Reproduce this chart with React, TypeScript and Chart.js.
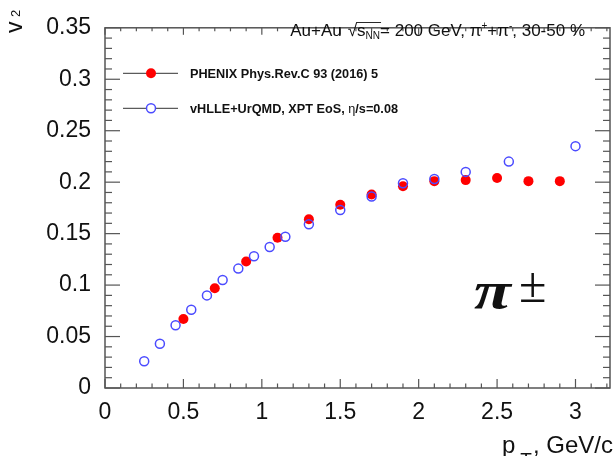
import React, { useEffect, useRef } from "react";
import { Chart, registerables } from "chart.js";

Chart.register(...registerables);

// ---- data ----
const phenixPt = [0.5, 0.7, 0.9, 1.1, 1.3, 1.5, 1.7, 1.9, 2.1, 2.3, 2.5, 2.7, 2.9];
const phenixV2 = [0.067, 0.097, 0.123, 0.146, 0.164, 0.178, 0.188, 0.196, 0.201, 0.202, 0.204, 0.201, 0.201];

const hydroPt = [0.25, 0.35, 0.45, 0.55, 0.65, 0.75, 0.85, 0.95, 1.05, 1.15, 1.3, 1.5, 1.7, 1.9, 2.1, 2.3, 2.575, 3.0];
const hydroV2 = [0.026, 0.043, 0.061, 0.076, 0.09, 0.105, 0.116, 0.128, 0.137, 0.147, 0.159, 0.173, 0.186, 0.199, 0.203, 0.21, 0.22, 0.235];

const legendLabels = ["PHENIX Phys.Rev.C 93 (2016) 5", "vHLLE+UrQMD, XPT EoS, "];
const xRange = [0, 3.22];
const yRange = [0, 0.35];
const xMajorStep = 0.5;
const yMajorStep = 0.05;
const xMinorStep = 0.1;
const yMinorStep = 0.01;

const SANS = "'Liberation Sans', Arial, Helvetica, sans-serif";
const SERIF = "'Liberation Serif', 'Times New Roman', serif";
const RED = "#ff0000";
const BLUE = "#4b4bff";
const FRAME = "#555555";
const TEXT = "#111111";

type Seg = { text: string; font: string; dy?: number; gap?: number };

function drawSegs(ctx: CanvasRenderingContext2D, segs: Seg[], xStart: number, baseline: number) {
  let x = xStart;
  const pos: number[][] = [];
  for (const s of segs) {
    ctx.font = s.font;
    const w = ctx.measureText(s.text).width;
    ctx.fillText(s.text, x, baseline + (s.dy || 0));
    pos.push([x, x + w]);
    x += w + (s.gap || 0);
  }
  return pos;
}

function segsWidth(ctx: CanvasRenderingContext2D, segs: Seg[]) {
  let t = 0;
  for (const s of segs) {
    ctx.font = s.font;
    t += ctx.measureText(s.text).width + (s.gap || 0);
  }
  return t;
}

const decorPlugin = {
  id: "decor",
  afterDraw(chart: any) {
    const { ctx, chartArea: a, scales } = chart;
    const xs = scales.x;
    const ys = scales.y;
    ctx.save();

    // frame
    ctx.strokeStyle = FRAME;
    ctx.lineWidth = 1.5;
    ctx.strokeRect(a.left, a.top, a.right - a.left, a.bottom - a.top);

    // ticks (inside, all four sides)
    ctx.lineWidth = 1.2;
    const line = (x1: number, y1: number, x2: number, y2: number) => {
      ctx.beginPath();
      ctx.moveTo(x1, y1);
      ctx.lineTo(x2, y2);
      ctx.stroke();
    };
    const nY = Math.round((yRange[1] - yRange[0]) / yMinorStep);
    const yRatio = Math.round(yMajorStep / yMinorStep);
    for (let i = 0; i <= nY; i++) {
      const py = ys.getPixelForValue(yRange[0] + i * yMinorStep);
      const len = i % yRatio === 0 ? 15 : 7;
      line(a.left, py, a.left + len, py);
      line(a.right, py, a.right - len, py);
    }
    const nX = Math.floor((xRange[1] - xRange[0]) / xMinorStep + 1e-6);
    const xRatio = Math.round(xMajorStep / xMinorStep);
    for (let i = 0; i <= nX; i++) {
      const px = xs.getPixelForValue(xRange[0] + i * xMinorStep);
      const major = i % xRatio === 0;
      line(px, a.bottom, px, a.bottom - (major ? 9 : 4.5));
      line(px, a.top, px, a.top + (major ? 7 : 3.5));
    }

    ctx.fillStyle = TEXT;
    ctx.textAlign = "left";
    ctx.textBaseline = "alphabetic";

    // title
    const F = `17px ${SANS}`;
    const Fs = `10px ${SANS}`;
    const title: Seg[] = [
      { text: "Au+Au", font: F, gap: 6 },
      { text: "\u221A", font: F },
      { text: "s", font: F },
      { text: "NN", font: Fs, dy: 3 },
      { text: "= 200 GeV, \u03C0", font: F },
      { text: "+", font: Fs, dy: -7 },
      { text: "+\u03C0", font: F },
      { text: "-", font: Fs, dy: -7 },
      { text: ", 30-50 %", font: F },
    ];
    const tw = segsWidth(ctx, title);
    const tpos = drawSegs(ctx, title, 585 - tw, 35.5);
    ctx.strokeStyle = TEXT;
    ctx.lineWidth = 0.9;
    line(tpos[1][1] - 1, 22.5, tpos[3][1] + 1, 22.5);

    // legend
    const legY = [73.3, 108.3];
    ctx.strokeStyle = "#333333";
    ctx.lineWidth = 1;
    for (const ly of legY) line(123, ly, 178, ly);
    ctx.beginPath();
    ctx.arc(151, legY[0], 5, 0, Math.PI * 2);
    ctx.fillStyle = RED;
    ctx.fill();
    ctx.beginPath();
    ctx.arc(151, legY[1], 4.5, 0, Math.PI * 2);
    ctx.fillStyle = "#ffffff";
    ctx.fill();
    ctx.strokeStyle = BLUE;
    ctx.lineWidth = 1.5;
    ctx.stroke();
    ctx.fillStyle = TEXT;
    const LB = `bold 12.7px ${SANS}`;
    drawSegs(ctx, [{ text: legendLabels[0], font: LB }], 190, legY[0] + 4.5);
    drawSegs(
      ctx,
      [
        { text: legendLabels[1], font: LB },
        { text: "\u03B7", font: `12.7px ${SANS}` },
        { text: "/s=0.08", font: LB },
      ],
      190,
      legY[1] + 4.5
    );

    // pi label (wide bold italic pi, stretched horizontally)
    ctx.save();
    ctx.translate(474, 308);
    ctx.scale(1.3, 1);
    ctx.font = `bold italic 52px ${SERIF}`;
    ctx.fillText("\u03C0", 0, 0);
    ctx.restore();
    drawSegs(ctx, [{ text: "\u00B1", font: `50px ${SERIF}` }], 519, 302);

    // x axis title (clipped like the reference pad)
    ctx.save();
    ctx.beginPath();
    ctx.rect(0, 0, 616, 456);
    ctx.clip();
    const xt: Seg[] = [
      { text: "p", font: `24px ${SANS}`, gap: 5 },
      { text: "T", font: `19px ${SANS}`, dy: 12.6, gap: 1 },
      { text: ", GeV/c", font: `24px ${SANS}` },
    ];
    const xw = segsWidth(ctx, xt);
    drawSegs(ctx, xt, 613 - xw, 453);
    ctx.restore();

    // y axis title
    ctx.save();
    ctx.translate(22, 33);
    ctx.rotate(-Math.PI / 2);
    ctx.font = `23px ${SANS}`;
    ctx.fillText("v", 0, 0);
    ctx.font = `13px ${SANS}`;
    ctx.fillText("2", 16, -2);
    ctx.restore();

    ctx.restore();
  },
};

const fmt = (v: number | string) => String(Math.round(Number(v) * 100) / 100);

export default function App() {
  const ref = useRef<HTMLCanvasElement | null>(null);
  useEffect(() => {
    document.body.style.margin = "0";
    const canvas = ref.current;
    if (!canvas) return;
    const chart = new Chart(canvas, {
      type: "scatter",
      data: {
        datasets: [
          {
            label: legendLabels[0],
            data: phenixPt.map((x, i) => ({ x, y: phenixV2[i] })),
            pointStyle: "circle",
            pointRadius: 5,
            pointBackgroundColor: RED,
            pointBorderColor: RED,
            pointBorderWidth: 0,
            showLine: false,
            order: 1,
          },
          {
            label: legendLabels[1],
            data: hydroPt.map((x, i) => ({ x, y: hydroV2[i] })),
            pointStyle: "circle",
            pointRadius: 4.5,
            pointBackgroundColor: "rgba(0,0,0,0)",
            pointBorderColor: BLUE,
            pointBorderWidth: 1.5,
            showLine: false,
            order: 0,
          },
        ],
      },
      options: {
        responsive: false,
        animation: false,
        devicePixelRatio: 1,
        layout: { padding: { top: 14, right: 3, left: 0, bottom: 0 } },
        plugins: {
          legend: { display: false },
          tooltip: { enabled: false },
          title: { display: false },
        },
        events: [],
        scales: {
          x: {
            type: "linear",
            min: xRange[0],
            max: xRange[1],
            grid: { display: false, drawTicks: false },
            border: { display: false },
            ticks: {
              stepSize: xMajorStep,
              includeBounds: false,
              autoSkip: false,
              maxRotation: 0,
              padding: 11,
              color: TEXT,
              font: { family: SANS, size: 23 },
              callback: (v: any) => fmt(v),
            },
            afterFit: (s: any) => {
              s.height = 73;
            },
          },
          y: {
            type: "linear",
            min: yRange[0],
            max: yRange[1],
            grid: { display: false, drawTicks: false },
            border: { display: false },
            ticks: {
              stepSize: yMajorStep,
              autoSkip: false,
              padding: 14,
              color: TEXT,
              font: { family: SANS, size: 23 },
              callback: (v: any) => fmt(v),
            },
            afterFit: (s: any) => {
              s.width = 105;
            },
          },
        },
      },
      plugins: [decorPlugin],
    } as any);
    return () => chart.destroy();
  }, []);
  return <canvas ref={ref} width={616} height={461} style={{ display: "block", width: 616, height: 461 }} />;
}
